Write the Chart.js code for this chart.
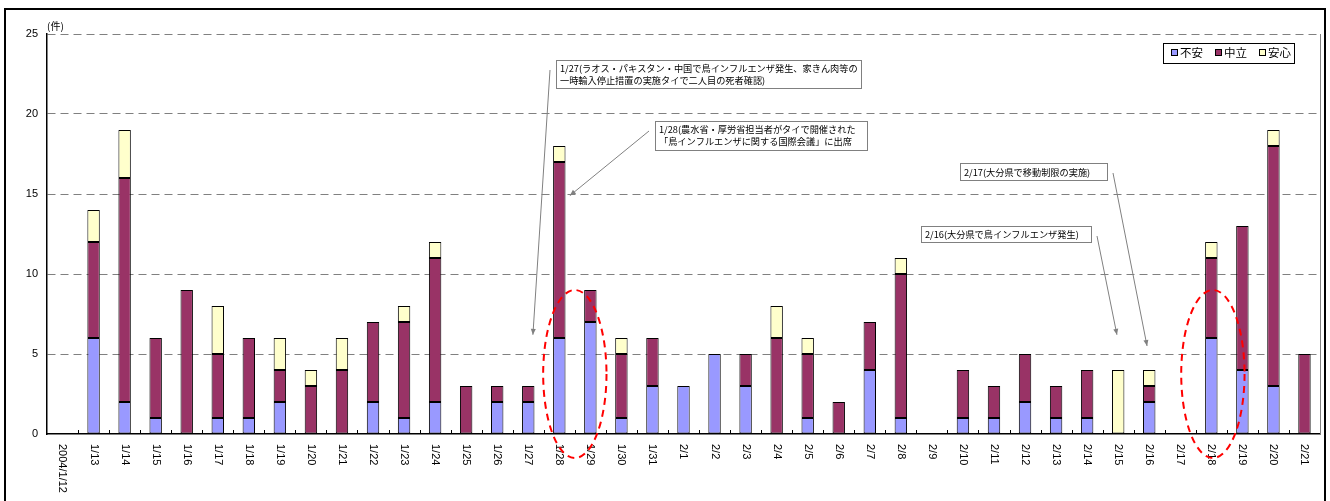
<!DOCTYPE html>
<html lang="ja">
<head>
<meta charset="utf-8">
<title>鳥インフルエンザ関連 件数の推移</title>
<script src="https://cdn.jsdelivr.net/npm/chart.js@4/dist/chart.umd.min.js"></script>
<style>
  html, body { margin: 0; padding: 0; background: #fff; }
  canvas { display: block; }
</style>
</head>
<body>
<canvas id="chart" width="1330" height="501"></canvas>
<script>
// daily counts, 2004/1/12 - 2/21
const categories = [
  '2004/1/12', '1/13', '1/14', '1/15', '1/16', '1/17', '1/18', '1/19', '1/20', '1/21',
  '1/22', '1/23', '1/24', '1/25', '1/26', '1/27', '1/28', '1/29', '1/30', '1/31',
  '2/1', '2/2', '2/3', '2/4', '2/5', '2/6', '2/7', '2/8', '2/9', '2/10',
  '2/11', '2/12', '2/13', '2/14', '2/15', '2/16', '2/17', '2/18', '2/19', '2/20', '2/21'
];
const fuan = [
  0, 6, 2, 1, 0, 1, 1, 2, 0, 0,
  2, 1, 2, 0, 2, 2, 6, 7, 1, 3,
  3, 5, 3, 0, 1, 0, 4, 1, 0, 1,
  1, 2, 1, 1, 0, 2, 0, 6, 4, 3, 0
];
const chuuritsu = [
  0, 6, 14, 5, 9, 4, 5, 2, 3, 4,
  5, 6, 9, 3, 1, 1, 11, 2, 4, 3,
  0, 0, 2, 6, 4, 2, 3, 9, 0, 3,
  2, 3, 2, 3, 0, 1, 0, 5, 9, 15, 5
];
const anshin = [
  0, 2, 3, 0, 0, 3, 0, 2, 1, 2,
  0, 1, 1, 0, 0, 0, 1, 0, 1, 0,
  0, 0, 0, 2, 1, 0, 0, 1, 0, 0,
  0, 0, 0, 0, 4, 1, 0, 1, 0, 1, 0
];
const seriesNames = ['不安', '中立', '安心'];
const seriesColors = ['#9999FF', '#993366', '#FFFFCC'];
const yMax = 25;
const yStep = 5;

const JP_FONT = '"Noto Sans CJK JP", "DejaVu Sans", sans-serif';
const NUM_FONT = '"Liberation Sans", "DejaVu Sans", sans-serif';

// callouts: box in pixels, arrow tip in (category index, value)
const notes = [
  { lines: ['1/27(ラオス・パキスタン・中国で鳥インフルエンザ発生、家きん肉等の', '一時輸入停止措置の実施タイで二人目の死者確認)'],
    box: [556, 60, 305, 28], side: 'left', tip: [15.15, 6.2] },
  { lines: ['1/28(農水省・厚労省担当者がタイで開催された', '「鳥インフルエンザに関する国際会議」に出席'],
    box: [655, 121, 212, 29], side: 'left', tip: [16.34, 14.9] },
  { lines: ['2/17(大分県で移動制限の実施)'],
    box: [960, 163, 147, 17], side: 'right', tip: [34.93, 5.5] },
  { lines: ['2/16(大分県で鳥インフルエンザ発生)'],
    box: [921, 226, 170, 16], side: 'right', tip: [33.96, 6.2] }
];

// dashed red rings: centre index, half width (categories), top / bottom values
const rings = [
  { center: 16.5, half: 1.02, top: 9, bottom: -1.5 },
  { center: 37.05, half: 1.02, top: 9, bottom: -1.5 }
];

function arrow(ctx, x1, y1, x2, y2) {
  ctx.beginPath();
  ctx.moveTo(x1, y1);
  ctx.lineTo(x2, y2);
  ctx.stroke();
  const a = Math.atan2(y2 - y1, x2 - x1);
  const len = 6, w = 2.5;
  ctx.beginPath();
  ctx.moveTo(x2, y2);
  ctx.lineTo(x2 - len * Math.cos(a) + w * Math.sin(a), y2 - len * Math.sin(a) - w * Math.cos(a));
  ctx.lineTo(x2 - len * Math.cos(a) - w * Math.sin(a), y2 - len * Math.sin(a) + w * Math.cos(a));
  ctx.closePath();
  ctx.fill();
}

const extras = {
  id: 'extras',
  afterDraw(chart) {
    const { ctx, chartArea: area, scales: { x, y } } = chart;
    ctx.save();

    // outer frame
    ctx.strokeStyle = '#000';
    ctx.lineWidth = 2;
    ctx.strokeRect(5, 9, 1320, 520);

    // right edge of plot area
    ctx.strokeStyle = '#808080';
    ctx.lineWidth = 1;
    ctx.beginPath();
    ctx.moveTo(area.right + 0.5, area.top);
    ctx.lineTo(area.right + 0.5, area.bottom);
    ctx.stroke();

    // small ticks between categories
    ctx.strokeStyle = '#000';
    const step = x.getPixelForValue(1) - x.getPixelForValue(0);
    for (let i = 1; i < categories.length; i++) {
      const px = Math.round(x.getPixelForValue(i) - step / 2) + 0.5;
      ctx.beginPath();
      ctx.moveTo(px, area.bottom - 4);
      ctx.lineTo(px, area.bottom);
      ctx.stroke();
    }

    // category labels, rotated to read downward
    ctx.fillStyle = '#000';
    ctx.font = '11px ' + NUM_FONT;
    ctx.textAlign = 'left';
    ctx.textBaseline = 'middle';
    categories.forEach((c, i) => {
      ctx.save();
      ctx.translate(x.getPixelForTick(i), area.bottom + 10);
      ctx.rotate(Math.PI / 2);
      ctx.fillText(c, 0, 0);
      ctx.restore();
    });

    // unit
    ctx.font = '10px ' + JP_FONT;
    ctx.fillText('(件)', area.left, 26);

    // legend
    const lg = { x: 1163.5, y: 43.5, w: 131, h: 20 };
    ctx.fillStyle = '#fff';
    ctx.fillRect(lg.x, lg.y, lg.w, lg.h);
    ctx.strokeStyle = '#000';
    ctx.lineWidth = 1;
    ctx.strokeRect(lg.x, lg.y, lg.w, lg.h);
    ctx.font = '11.5px ' + JP_FONT;
    const itemX = [1171, 1215, 1259];
    seriesNames.forEach((name, i) => {
      ctx.fillStyle = seriesColors[i];
      ctx.fillRect(itemX[i] + 0.5, 49.5, 6, 6);
      ctx.strokeRect(itemX[i] + 0.5, 49.5, 6, 6);
      ctx.fillStyle = '#000';
      ctx.fillText(name, itemX[i] + 9, 53);
    });

    // callouts
    notes.forEach(n => {
      const [bx, by, bw, bh] = n.box;
      ctx.fillStyle = '#fff';
      ctx.fillRect(bx + 0.5, by + 0.5, bw, bh);
      ctx.strokeStyle = '#808080';
      ctx.lineWidth = 1;
      ctx.strokeRect(bx + 0.5, by + 0.5, bw, bh);
      ctx.fillStyle = '#000';
      ctx.font = '9.2px ' + JP_FONT;
      ctx.textBaseline = 'middle';
      if (n.lines.length === 1) {
        ctx.fillText(n.lines[0], bx + 4, by + bh / 2 + 1, bw - 6);
      } else {
        n.lines.forEach((t, k) => ctx.fillText(t, bx + 4, by + 9 + k * 12, bw - 6));
      }
      const sx = n.side === 'left' ? bx - 6 : bx + bw + 6;
      const sy = by + 10;
      ctx.strokeStyle = '#808080';
      ctx.fillStyle = '#808080';
      arrow(ctx, sx, sy, x.getPixelForValue(n.tip[0]), y.getPixelForValue(n.tip[1]));
    });

    // dashed rings
    ctx.strokeStyle = '#FF0000';
    ctx.lineWidth = 2;
    ctx.setLineDash([7, 5]);
    rings.forEach(r => {
      const cx = x.getPixelForValue(r.center);
      const rx = x.getPixelForValue(r.center + r.half) - cx;
      const top = y.getPixelForValue(r.top);
      const bottom = y.getPixelForValue(r.bottom);
      ctx.beginPath();
      ctx.ellipse(cx, (top + bottom) / 2, rx, (bottom - top) / 2, 0, 0, Math.PI * 2);
      ctx.stroke();
    });

    ctx.restore();
  }
};

const zeroless = c => (c.raw === 0 ? 0 : 1);

new Chart(document.getElementById('chart'), {
  type: 'bar',
  data: {
    labels: categories,
    datasets: [fuan, chuuritsu, anshin].map((values, i) => ({
      label: seriesNames[i],
      data: values,
      backgroundColor: seriesColors[i],
      borderColor: '#000',
      borderWidth: zeroless,
      borderSkipped: false,
      barPercentage: 0.4,
      categoryPercentage: 1
    }))
  },
  options: {
    responsive: false,
    animation: false,
    layout: { padding: { left: 7, right: 10, top: 34, bottom: 0 } },
    plugins: { legend: { display: false }, tooltip: { enabled: false } },
    scales: {
      x: {
        stacked: true,
        grid: { display: false },
        border: { display: true, color: '#000', width: 1.5 },
        ticks: { display: false },
        afterFit(scale) { scale.height = 67; }
      },
      y: {
        stacked: true,
        min: 0,
        max: yMax,
        ticks: {
          stepSize: yStep,
          padding: 9,
          color: '#000',
          font: { family: NUM_FONT, size: 11 }
        },
        grid: {
          drawTicks: false,
          color: c => (c.tick && c.tick.value === 0 ? 'rgba(0,0,0,0)' : '#808080'),
          lineWidth: 1
        },
        border: { display: true, color: '#000', width: 1.5, dash: [8, 5] },
        afterFit(scale) { scale.width = 40; }
      }
    }
  },
  plugins: [extras]
});
</script>
</body>
</html>
